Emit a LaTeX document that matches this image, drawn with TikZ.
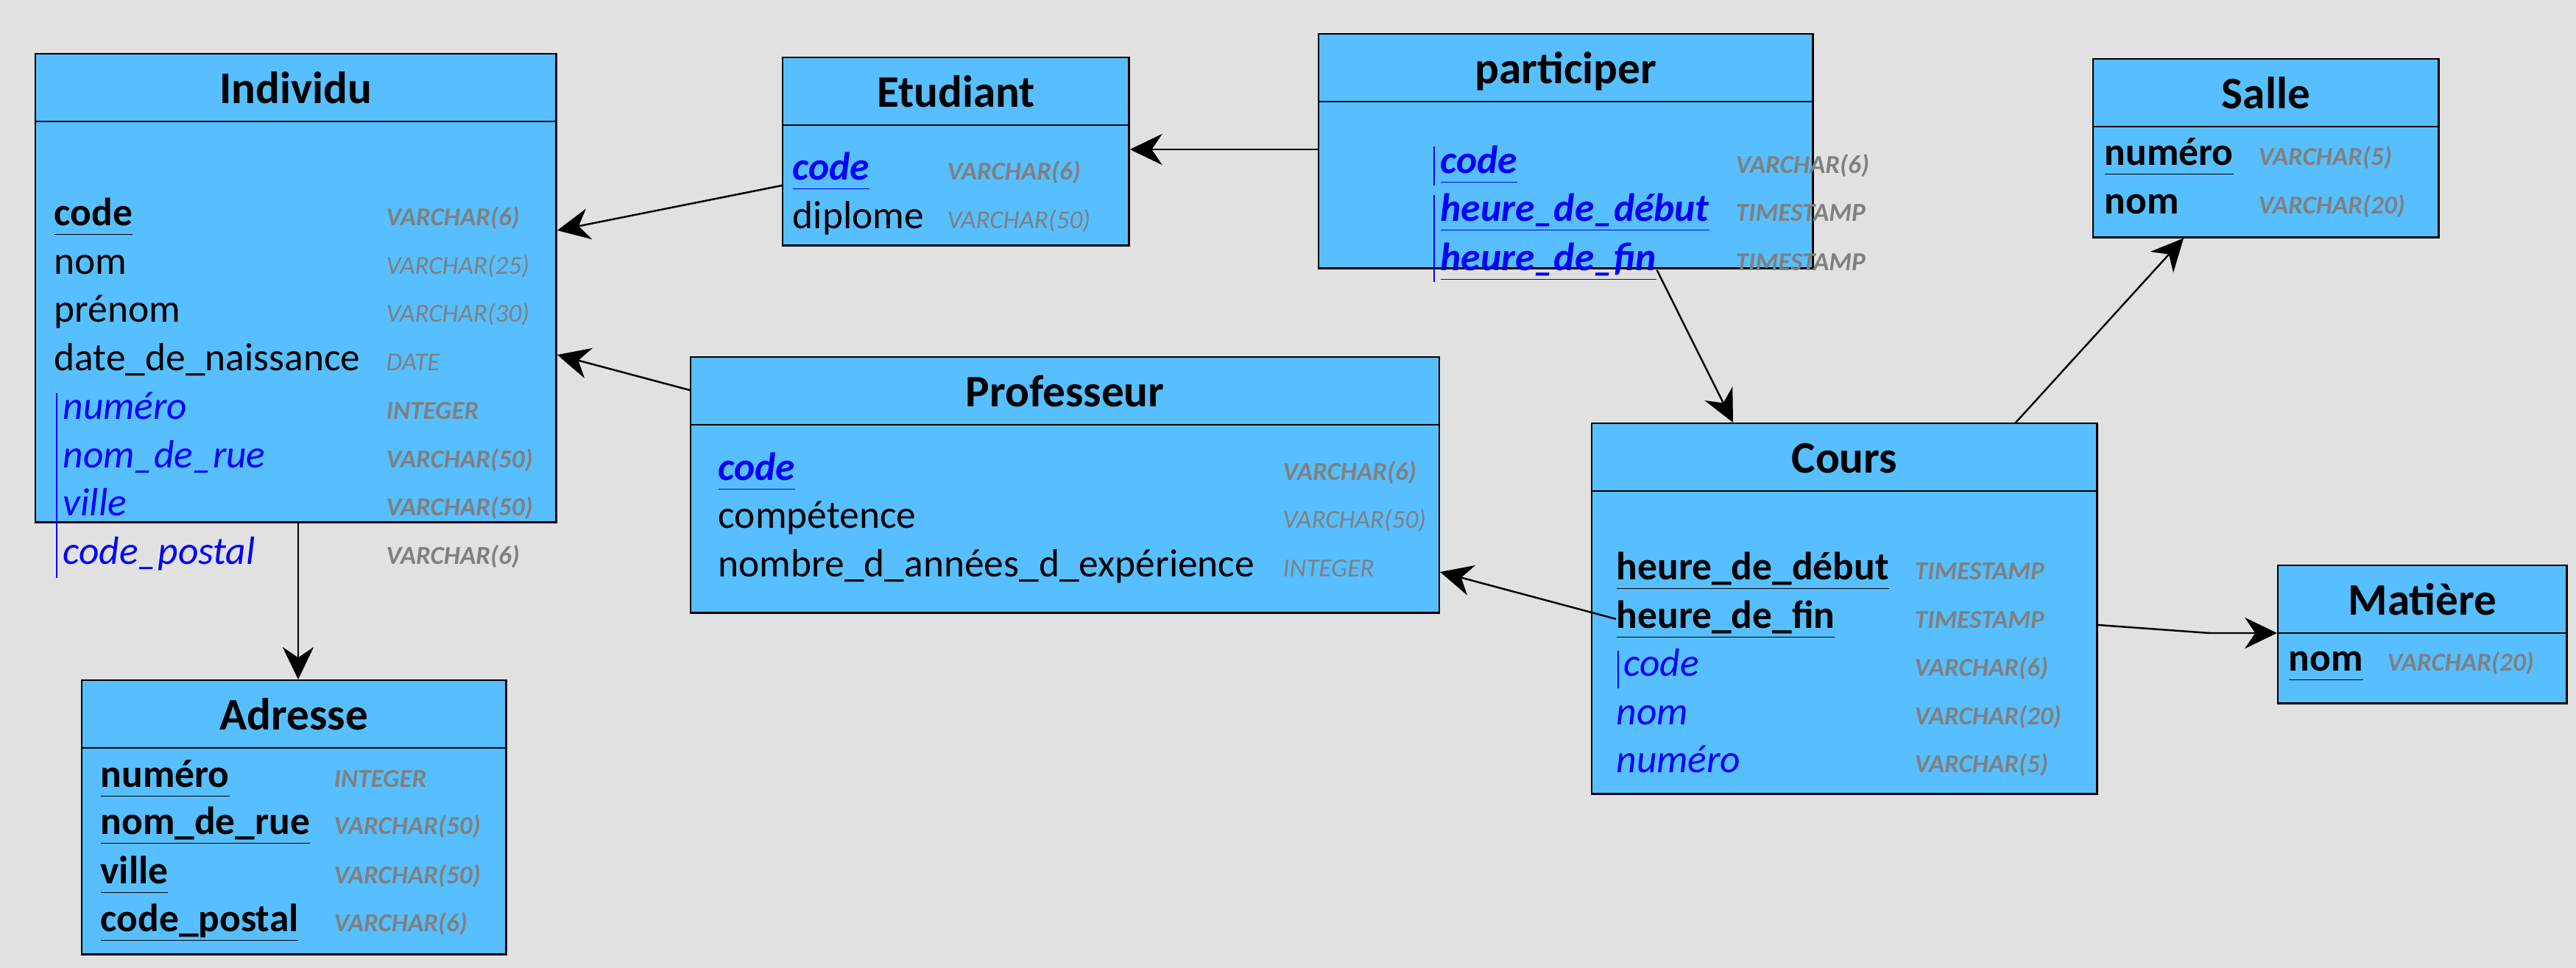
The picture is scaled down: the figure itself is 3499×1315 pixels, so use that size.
\documentclass[tikz,border=0pt]{standalone}
\usepackage{fontspec}
\setmainfont{Carlito}
\usepackage{tikz}
\usetikzlibrary{arrows.meta}
\usepackage{xcolor}

\definecolor{bggray}{HTML}{E1E1E1}
\definecolor{tblfill}{HTML}{57BFFF}
\definecolor{fkblue}{HTML}{0000FF}
\definecolor{typegray}{HTML}{808080}

\newcommand{\keyul}[1]{\setbox0=\hbox{#1}\rlap{\rule[-0.25em]{\wd0}{0.5pt}}\box0}

\begin{document}
\begin{tikzpicture}[x=0.01cm,y=-0.01cm,
    tbl/.style={draw,fill=tblfill,line width=0.7pt,anchor=north west,inner sep=0pt},
    hdr/.style={line width=0.8pt},
    ttl/.style={anchor=base,inner sep=0pt,font=\fontsize{17.4}{20}\selectfont\bfseries},
    fld/.style={anchor=base west,inner sep=0pt,font=\fontsize{15.2}{18}\selectfont},
    pkey/.style={fld,font=\fontsize{15.2}{18}\selectfont\bfseries},
    fk/.style={fld,text=fkblue,font=\fontsize{15.2}{18}\selectfont\itshape},
    fkkey/.style={fld,text=fkblue,font=\fontsize{15.2}{18}\selectfont\bfseries\itshape},
    typ/.style={anchor=base west,inner sep=0pt,text=typegray,font=\fontsize{10}{12}\selectfont\itshape},
    typb/.style={typ,font=\fontsize{10}{12}\selectfont\bfseries\itshape},
    fkbar/.style={fkblue,line width=0.5pt},
    arr/.style={-{Stealth[length=12.5pt,width=12pt]},line width=0.7pt}]

    \fill[bggray] (0,0) rectangle (3499,1315);

    % Individu
    \node[tbl,minimum width=7.07cm,minimum height=6.36cm] (ind) at (47,72) {};
    \draw[hdr] ([yshift=-0.93cm]ind.north west) -- ([yshift=-0.93cm]ind.north east);
    \node[ttl] (ind-title) at ([yshift=-0.68cm]ind.north) {Individu};
    \node[pkey] (ind-code) at (73,306) {\keyul{code}};
    \node[fld] (ind-nom) at (73,372) {nom};
    \node[fld] (ind-prenom) at (73,437) {prénom};
    \node[fld] (ind-date) at (73,503) {date\_de\_naissance};
    \node[fk] (ind-num) at (85,569) {numéro};
    \node[fk] (ind-rue) at (85,635) {nom\_de\_rue};
    \node[fk] (ind-ville) at (85,700) {ville};
    \node[fk] (ind-cp) at (85,766) {code\_postal};
    \draw[fkbar] (77,534) -- (77,785);
    \node[typb] at (524,306) {VARCHAR(6)};
    \node[typ] at (524,372) {VARCHAR(25)};
    \node[typ] at (524,437) {VARCHAR(30)};
    \node[typ] at (524,503) {DATE};
    \node[typb] at (524,569) {INTEGER};
    \node[typb] at (524,635) {VARCHAR(50)};
    \node[typb] at (524,700) {VARCHAR(50)};
    \node[typb] at (524,766) {VARCHAR(6)};

    % Adresse
    \node[tbl,minimum width=5.76cm,minimum height=3.72cm] (adr) at (110,923) {};
    \draw[hdr] ([yshift=-0.93cm]adr.north west) -- ([yshift=-0.93cm]adr.north east);
    \node[ttl] (adr-title) at ([yshift=-0.68cm]adr.north) {Adresse};
    \node[pkey] (adr-num) at (136,1069) {\keyul{numéro}};
    \node[pkey] (adr-rue) at (136,1133) {\keyul{nom\_de\_rue}};
    \node[pkey] (adr-ville) at (136,1200) {\keyul{ville}};
    \node[pkey] (adr-cp) at (136,1265) {\keyul{code\_postal}};
    \node[typb] at (453,1069) {INTEGER};
    \node[typb] at (453,1133) {VARCHAR(50)};
    \node[typb] at (453,1200) {VARCHAR(50)};
    \node[typb] at (453,1265) {VARCHAR(6)};

    % Etudiant
    \node[tbl,minimum width=4.70cm,minimum height=2.55cm] (etu) at (1062,77) {};
    \draw[hdr] ([yshift=-0.93cm]etu.north west) -- ([yshift=-0.93cm]etu.north east);
    \node[ttl] (etu-title) at ([yshift=-0.68cm]etu.north) {Etudiant};
    \node[fkkey] (etu-code) at (1076,244) {\keyul{code}};
    \node[fld] (etu-dip) at (1076,310) {diplome};
    \node[typb] at (1286,244) {VARCHAR(6)};
    \node[typ] at (1286,310) {VARCHAR(50)};

    % participer
    \node[tbl,minimum width=6.71cm,minimum height=3.18cm] (part) at (1790,45) {};
    \draw[hdr] ([yshift=-0.93cm]part.north west) -- ([yshift=-0.93cm]part.north east);
    \node[ttl] (part-title) at ([yshift=-0.68cm]part.north) {participer};
    \node[fkkey] (part-code) at (1956,235) {\keyul{code}};
    \node[fkkey] (part-deb) at (1956,300) {\keyul{heure\_de\_début}};
    \node[fkkey] (part-fin) at (1956,367) {\keyul{heure\_de\_fin}};
    \draw[fkbar] (1948,199) -- (1948,252);
    \draw[fkbar] (1948,265) -- (1948,383);
    \node[typb] at (2357,235) {VARCHAR(6)};
    \node[typb] at (2357,300) {TIMESTAMP};
    \node[typb] at (2357,367) {TIMESTAMP};

    % Professeur
    \node[tbl,minimum width=10.16cm,minimum height=3.47cm] (prof) at (937,484) {};
    \draw[hdr] ([yshift=-0.93cm]prof.north west) -- ([yshift=-0.93cm]prof.north east);
    \node[ttl] (prof-title) at ([yshift=-0.68cm]prof.north) {Professeur};
    \node[fkkey] (prof-code) at (975,652) {\keyul{code}};
    \node[fld] (prof-comp) at (975,717) {compétence};
    \node[fld] (prof-exp) at (975,783) {nombre\_d\_années\_d\_expérience};
    \node[typb] at (1742,652) {VARCHAR(6)};
    \node[typ] at (1742,717) {VARCHAR(50)};
    \node[typ] at (1742,783) {INTEGER};

    % Cours
    \node[tbl,minimum width=6.86cm,minimum height=5.03cm] (cours) at (2161,574) {};
    \draw[hdr] ([yshift=-0.93cm]cours.north west) -- ([yshift=-0.93cm]cours.north east);
    \node[ttl] (cours-title) at ([yshift=-0.68cm]cours.north) {Cours};
    \node[pkey] (cours-deb) at (2195,787) {\keyul{heure\_de\_début}};
    \node[pkey] (cours-fin) at (2195,853) {\keyul{heure\_de\_fin}};
    \node[fk] (cours-code) at (2205,918) {code};
    \node[fk] (cours-nom) at (2195,984) {nom};
    \node[fk] (cours-num) at (2195,1049) {numéro};
    \draw[fkbar] (2198,884) -- (2198,935);
    \node[typb] at (2600,787) {TIMESTAMP};
    \node[typb] at (2600,853) {TIMESTAMP};
    \node[typb] at (2600,918) {VARCHAR(6)};
    \node[typb] at (2600,984) {VARCHAR(20)};
    \node[typb] at (2600,1049) {VARCHAR(5)};

    % Matiere
    \node[tbl,minimum width=3.92cm,minimum height=1.87cm] (mat) at (3093,767) {};
    \draw[hdr] ([yshift=-0.93cm]mat.north west) -- ([yshift=-0.93cm]mat.north east);
    \node[ttl] (mat-title) at ([yshift=-0.68cm]mat.north) {Matière};
    \node[pkey] (mat-nom) at (3108,911) {\keyul{nom}};
    \node[typb] at (3242,911) {VARCHAR(20)};

    % Salle
    \node[tbl,minimum width=4.69cm,minimum height=2.42cm] (salle) at (2842,79) {};
    \draw[hdr] ([yshift=-0.93cm]salle.north west) -- ([yshift=-0.93cm]salle.north east);
    \node[ttl] (salle-title) at ([yshift=-0.68cm]salle.north) {Salle};
    \node[pkey] (salle-num) at (2858,224) {\keyul{numéro}};
    \node[pkey] (salle-nom) at (2858,290) {nom};
    \node[typb] at (3067,224) {VARCHAR(5)};
    \node[typb] at (3067,290) {VARCHAR(20)};

    \coordinate (bend) at (3001,860);
    \draw[arr] (part.west |- 0,203) -- (etu.east |- 0,203);
    \draw[arr] (etu.west |- 0,252) -- (ind.east |- 0,313);
    \draw[arr] (prof.west |- 0,530) -- (ind.east |- 0,482);
    \draw[arr] (ind.south -| 405,0) -- (adr.north -| 405,0);
    \draw[arr] (part-fin.base east) -- (cours.north -| 2354,0);
    \draw[arr] (cours.north -| 2738,0) -- (salle.south -| 2966,0);
    \draw[arr] (cours-fin.west) -- (prof.east |- 0,777);
    \draw[arr] (cours.east |- 0,849) -- (bend) -- (mat.west |- 0,860);
\end{tikzpicture}
\end{document}
